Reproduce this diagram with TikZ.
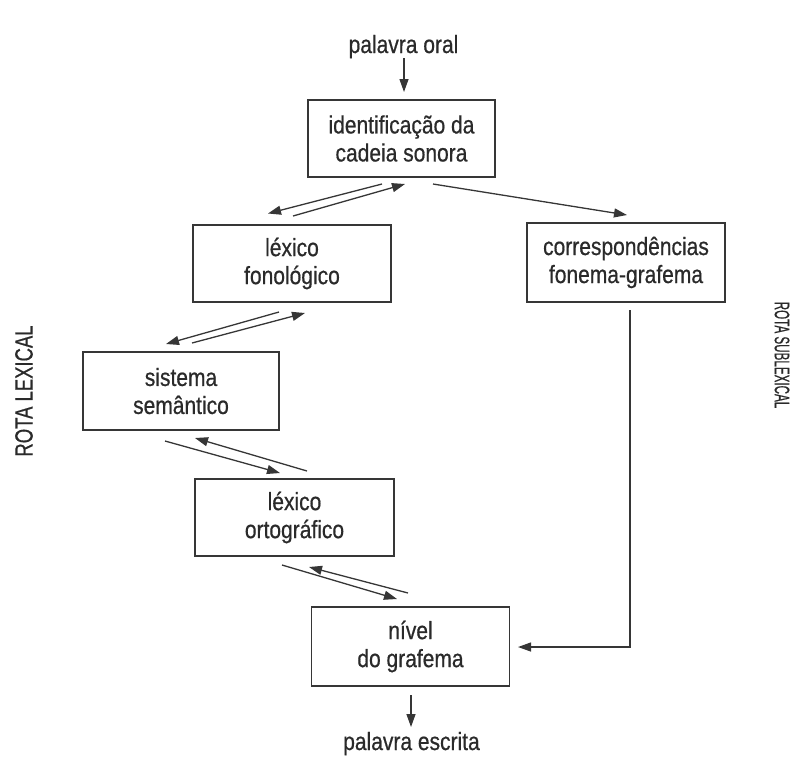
\documentclass[tikz,border=0pt]{standalone}
\usepackage{fontspec}
\setmainfont[FakeStretch=0.84,FakeBold=0.6]{Liberation Sans}
\usetikzlibrary{arrows.meta}
\definecolor{ink}{HTML}{2A2A2A}
\definecolor{linec}{HTML}{363636}
\begin{document}
\begin{tikzpicture}[x=1pt,y=-1pt,
  box/.style={draw=linec,line width=1.4pt,align=center,inner sep=0pt,text=ink,
    font=\fontsize{25}{28}\selectfont},
  lbl/.style={inner sep=0pt,text=ink,font=\fontsize{25}{28}\selectfont},
  con/.style={draw=linec,line width=1.3pt,-{Triangle[length=13pt,width=9pt]}}]
\useasboundingbox (0,0) rectangle (792,756);
% boxes
\node[box,minimum width=187pt,minimum height=77pt] (b1) at (401.5,138.5) {identificação da\\cadeia sonora};
\node[box,minimum width=198pt,minimum height=77pt] (b2) at (292,263.5) {léxico\\fonológico};
\node[box,minimum width=198pt,minimum height=79pt] (b3) at (626,262.5) {correspondências\\fonema-grafema};
\node[box,minimum width=196pt,minimum height=78pt] (b4) at (181,391) {sistema\\semântico};
\node[box,minimum width=199pt,minimum height=77pt] (b5) at (294.5,517.5) {léxico\\ortográfico};
\node[box,minimum width=198pt,minimum height=79pt] (b6) at (410.5,646.5) {nível\\do grafema};
% free labels
\node[lbl,anchor=base] (o1) at (403.5,53) {palavra oral};
\node[lbl,anchor=base] (w1) at (411.5,750) {palavra escrita};
\node[lbl,rotate=90] (rl) at (24,391) {\scalebox{0.88}[1]{ROTA LEXICAL}};
\node[lbl,rotate=-90,font=\fontsize{21}{24}\selectfont] (rs) at (782,355) {\scalebox{0.66}[1]{ROTA SUBLEXICAL}};
% vertical in/out arrows
\draw[con] ([shift={(0.5,5)}]o1.base) -- ([shift={(2.5,-46.5)}]b1.center);
\draw[con] ([shift={(0.5,48.5)}]b6.center) -- ([shift={(-0.5,-23)}]w1.base);
% double arrows b1-b2
\draw[con] ([shift={(-19.5,45.5)}]b1.center) -- ([shift={(-24,-50)}]b2.center);
\draw[con] ([shift={(1,-47.5)}]b2.center) -- ([shift={(3.5,45.5)}]b1.center);
% b2-b4
\draw[con] ([shift={(-13,48.5)}]b2.center) -- ([shift={(-15,-47)}]b4.center);
\draw[con] ([shift={(11,-48)}]b4.center) -- ([shift={(13,49.5)}]b2.center);
% b4-b5
\draw[con] ([shift={(-16,50)}]b4.center) -- ([shift={(-14.5,-44.5)}]b5.center);
\draw[con] ([shift={(12.5,-46.5)}]b5.center) -- ([shift={(14,47)}]b4.center);
% b5-b6
\draw[con] ([shift={(-12.5,47.5)}]b5.center) -- ([shift={(-13.5,-47.5)}]b6.center);
\draw[con] ([shift={(-2.5,-53.5)}]b6.center) -- ([shift={(14.5,49.5)}]b5.center);
% sublexical route
\draw[con] ([shift={(31.5,45.5)}]b1.center) -- ([shift={(1,-47.5)}]b3.center);
\draw[con] ([shift={(4,47.5)}]b3.center) |- ([shift={(107.5,0.5)}]b6.center);
\end{tikzpicture}
\end{document}
